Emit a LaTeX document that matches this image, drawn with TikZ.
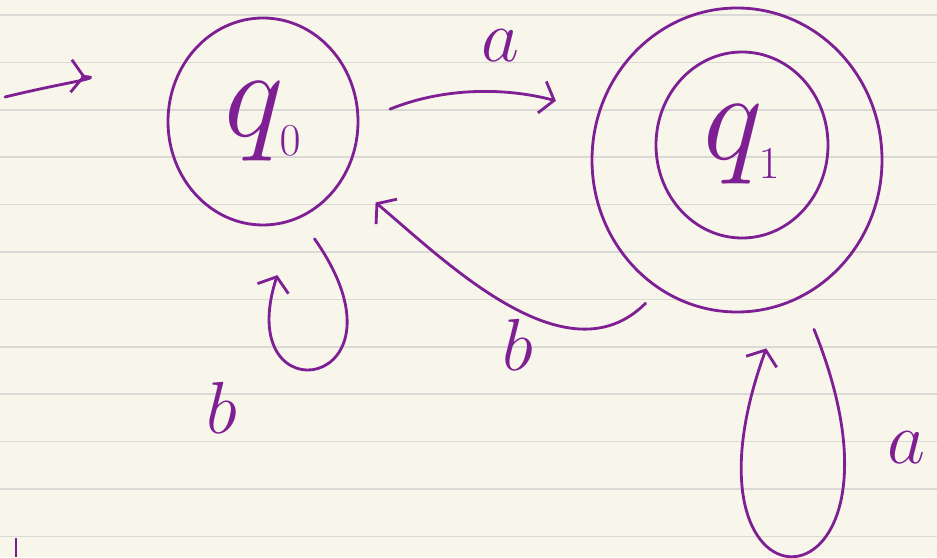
\RequirePackage{fix-cm}
\documentclass[tikz,border=0pt]{standalone}
\usepackage{tikz}
\usetikzlibrary{arrows.meta,calc,positioning,shapes.geometric}

\definecolor{paper}{HTML}{F8F6EB}
\definecolor{ruling}{HTML}{D9D9D5}
\definecolor{ink}{HTML}{7E1F94}

\newcommand{\smallsub}[1]{\mbox{\fontsize{26}{26}\selectfont$#1$}}

\tikzset{
  state/.style={ellipse, draw=ink, line width=1.6pt, inner sep=0pt,
    text=ink, font=\fontsize{72}{72}\selectfont},
  edge/.style={draw=ink, line width=1.6pt, line cap=round,
    -{Straight Barb[length=2.5mm,width=6.5mm]}},
  lab/.style={text=ink, font=\fontsize{42}{42}\selectfont}
}

\begin{document}
\begin{tikzpicture}

% =========================================================
% Paper
% =========================================================
\fill[paper] (0,0) rectangle (18.74,11.14);
\useasboundingbox (0,0) rectangle (18.74,11.14);
\foreach \k in {0,...,11} {
  \draw[ruling, line width=0.9pt] (0,{10.84-0.948*\k}) -- (18.74,{10.84-0.948*\k});
}
\draw[ink, line width=1.6pt] (0.32,0.38) -- (0.32,0);

% =========================================================
% States
% =========================================================
\node[state, minimum width=3.8cm, minimum height=4.14cm] (q0) at (5.26,8.71) {$q_{\smallsub{0}}$};
\node[state, minimum width=3.44cm, minimum height=3.72cm] (q1) at (14.84,8.24) {$q_{\smallsub{1}}$};
\node[state, minimum width=5.8cm, minimum height=6.08cm] (q1out) at (14.74,7.94) {};

% start arrow
\coordinate (start) at (0.1,9.2);
\draw[edge, shorten >=1.78cm] (start) to[bend left=8] (q0.155);

% q0 -> q1
\draw[edge, shorten <=0.66cm, shorten >=0.87cm] (q0.0) to[out=22, in=165] (q1out.161);
\node[lab] (la) at (10.0,10.22) {$a$};

% q1 -> q0
\draw[edge, shorten <=0.38cm, shorten >=0.8cm] (q1out.239) to[out=225, in=-40] (q0.-34);
\node[lab] (lb) at (10.36,4.24) {$b$};

% loop on q0
\draw[edge, shorten <=0.5cm, shorten >=1.15cm] (q0.-69) .. controls +(-55:4.2) and +(-108:4.2) .. (q0.-72);
\node[lab] (lbb) at (4.44,2.98) {$b$};

% loop on q1
\draw[edge, shorten <=0.68cm, shorten >=0.9cm] (q1out.-65) .. controls +(-68:7) and +(-110:7) .. (q1out.-73);
\node[lab] (laa) at (18.12,2.18) {$a$};

\end{tikzpicture}
\end{document}
